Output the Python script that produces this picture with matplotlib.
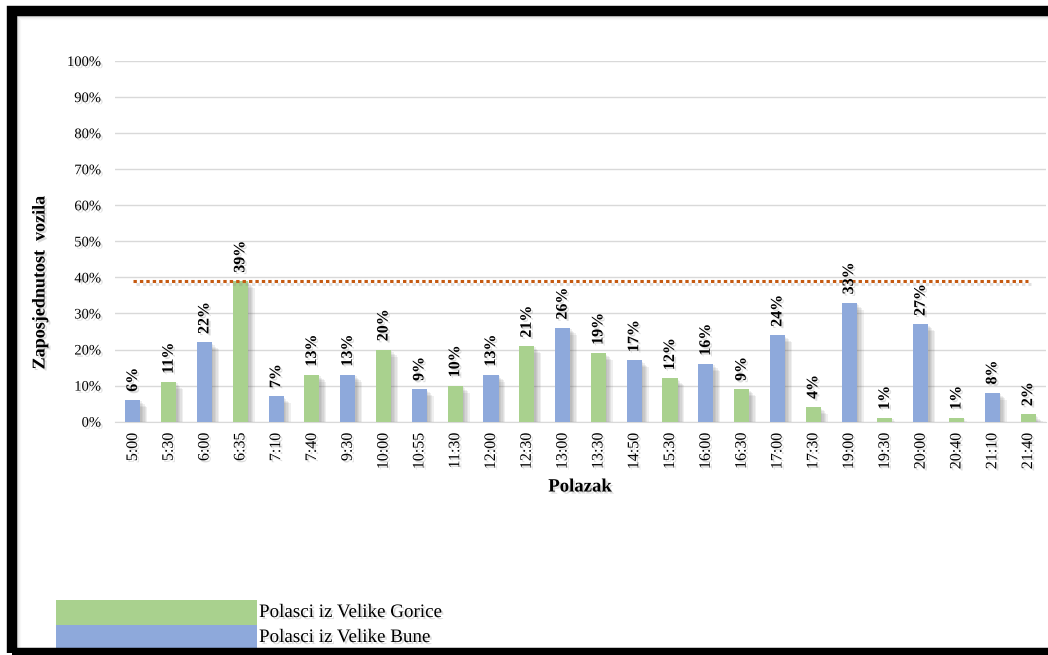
import matplotlib
matplotlib.use("Agg")
import matplotlib.pyplot as plt
import matplotlib.patheffects as pe
from matplotlib.patches import Rectangle
from matplotlib.ticker import PercentFormatter

categories = ["5:00", "5:30", "6:00", "6:35", "7:10", "7:40", "9:30", "10:00", "10:55",
              "11:30", "12:00", "12:30", "13:00", "13:30", "14:50", "15:30", "16:00",
              "16:30", "17:00", "17:30", "19:00", "19:30", "20:00", "20:40", "21:10", "21:40"]
values = [6, 11, 22, 39, 7, 13, 13, 20, 9, 10, 13, 21, 26, 19, 17, 12, 16, 9, 24, 4, 33, 1, 27, 1, 8, 2]
origin = ["B", "G", "B", "G", "B", "G", "B", "G", "B", "G", "B", "G", "B", "G", "B", "G",
          "B", "G", "B", "G", "B", "G", "B", "G", "B", "G"]
reference_level = 39
legend_labels = ["Polasci iz Velike Gorice", "Polasci iz Velike Bune"]

GREEN = "#A9D18E"
BLUE = "#8EA9DB"
colors = [GREEN if o == "G" else BLUE for o in origin]

plt.rcParams["font.family"] = ["Liberation Serif", "DejaVu Serif"]

W, H = 1048, 655
fig = plt.figure(figsize=(W / 100, H / 100), dpi=100)

ax = fig.add_axes([115 / W, 1 - 421.7 / H, (1046 - 115) / W, (421.7 - 61) / H])
x = list(range(len(categories)))

def soft_shadow(n=5, step=1.0, alpha=0.09, color="#555555"):
    effs = []
    for k in range(n, 0, -1):
        effs.append(pe.SimplePatchShadow(offset=(k * step, -k * step), shadow_rgbFace=color, alpha=alpha))
    effs.append(pe.Normal())
    return effs

bars = ax.bar(x, values, width=0.42, color=colors, zorder=3)
for b in bars:
    b.set_path_effects(soft_shadow())

ax.set_xlim(-0.5, len(categories) - 0.5)
ax.set_ylim(0, 100)
ax.set_yticks(range(0, 101, 10))
ax.yaxis.set_major_formatter(PercentFormatter(decimals=0))
ax.grid(axis="y", color="#D9D9D9", linewidth=1.0, zorder=0)
for s in ax.spines.values():
    s.set_visible(False)
ax.spines["bottom"].set_visible(True)
ax.spines["bottom"].set_color("#D9D9D9")
ax.tick_params(axis="both", length=0)
ax.tick_params(axis="y", labelsize=10.5, pad=10)
ax.set_xticks(x)
ax.set_xticklabels(categories, rotation=90, fontsize=11.5)
ax.tick_params(axis="x", pad=8)

txt_shadow = [pe.withSimplePatchShadow(offset=(1.5, -1.5), shadow_rgbFace="#999999", alpha=0.35)]
for lab in ax.get_xticklabels() + ax.get_yticklabels():
    lab.set_path_effects(txt_shadow)

ax.plot([0, len(categories) - 1], [reference_level, reference_level], color="#C55A11",
        linewidth=2.2, linestyle=(0, (1.1, 1.0)), zorder=4,
        path_effects=[pe.SimpleLineShadow(offset=(2, -2), shadow_color="#888888", alpha=0.25), pe.Normal()])

for xi, v in zip(x, values):
    t = ax.annotate(f"{v}%", (xi, v), xytext=(0, 6), textcoords="offset points",
                    rotation=90, ha="center", va="bottom", fontsize=11.5, fontweight="bold",
                    zorder=5, annotation_clip=False)
    t.set_path_effects(txt_shadow)

fig.text(40 / W, 1 - 283 / H, "Zaposjednutost  vozila", rotation=90, ha="center", va="center",
         fontsize=13, fontweight="bold", path_effects=txt_shadow)
fig.text(580 / W, 1 - 487 / H, "Polazak", ha="center", va="center",
         fontsize=13.5, fontweight="bold", path_effects=txt_shadow)

# legend
leg_colors = [GREEN, BLUE]
for i, (lbl, c) in enumerate(zip(legend_labels, leg_colors)):
    y0 = 600 + i * 25
    fig.add_artist(Rectangle((56 / W, 1 - (y0 + 25) / H), (257 - 56) / W, 25 / H,
                             transform=fig.transFigure, facecolor=c, edgecolor="none"))
    fig.text(259 / W, 1 - (y0 + 12.5) / H, lbl, ha="left", va="center", fontsize=13.7,
             path_effects=txt_shadow)

# inner shadow of frame
for k, a in enumerate([0.25, 0.15, 0.08, 0.04]):
    off = 17 + k
    fig.add_artist(Rectangle(((off) / W, 1 - 648 / H), (1080 - off) / W, (648 - (off - 1)) / H,
                             transform=fig.transFigure, facecolor="none", edgecolor="#777777",
                             alpha=a, linewidth=0.8, clip_on=False))
# frame
fig.add_artist(Rectangle((12 / W, 1 - 653 / H), (1080 - 12) / W, (653 - 11) / H,
                         transform=fig.transFigure, facecolor="none", edgecolor="black",
                         linewidth=7.5, clip_on=False))

fig.savefig("out.png", dpi=100)
